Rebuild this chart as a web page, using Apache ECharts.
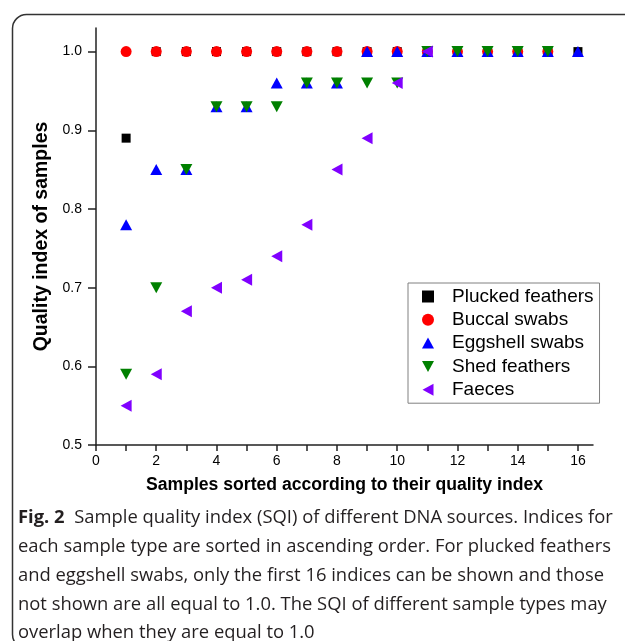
<!DOCTYPE html>
<html><head><meta charset="utf-8">
<script src="https://cdn.jsdelivr.net/npm/echarts@6/dist/echarts.min.js"></script>
<style>html,body{margin:0;padding:0;background:#fff}#c{width:625px;height:641px}</style>
</head><body><div id="c"></div>
<script>
const seriesNames = ['Plucked feathers','Buccal swabs','Eggshell swabs','Shed feathers','Faeces'];
const plucked  = [[1,0.89],[2,1.0],[3,1.0],[4,1.0],[5,1.0],[6,1.0],[7,1.0],[8,1.0],[9,1.0],[10,1.0],[11,1.0],[12,1.0],[13,1.0],[14,1.0],[15,1.0],[16,1.0]];
const buccal   = [[1,1.0],[2,1.0],[3,1.0],[4,1.0],[5,1.0],[6,1.0],[7,1.0],[8,1.0],[9,1.0],[10,1.0],[11,1.0],[12,1.0],[13,1.0],[14,1.0],[15,1.0]];
const eggshell = [[1,0.78],[2,0.85],[3,0.85],[4,0.93],[5,0.93],[6,0.96],[7,0.96],[8,0.96],[9,1.0],[10,1.0],[11,1.0],[12,1.0],[13,1.0],[14,1.0],[15,1.0],[16,1.0]];
const shed     = [[1,0.59],[2,0.70],[3,0.85],[4,0.93],[5,0.93],[6,0.93],[7,0.96],[8,0.96],[9,0.96],[10,0.96],[11,1.0],[12,1.0],[13,1.0],[14,1.0],[15,1.0]];
const faeces   = [[1,0.55],[2,0.59],[3,0.67],[4,0.70],[5,0.71],[6,0.74],[7,0.78],[8,0.85],[9,0.89],[10,0.96],[11,1.0]];
const xTicks = [0,1,2,3,4,5,6,7,8,9,10,11,12,13,14,15,16];
const xLabels = [0,2,4,6,8,10,12,14,16];
const yTicks = [0.5,0.6,0.7,0.8,0.9,1.0];
const captionLines = [
  'Sample quality index (SQI) of different DNA sources. Indices for',
  'each sample type are sorted in ascending order. For plucked feathers',
  'and eggshell swabs, only the first 16 indices can be shown and those',
  'not shown are all equal to 1.0. The SQI of different sample types may',
  'overlap when they are equal to 1.0'
];

const chart = echarts.init(document.getElementById('c'));
const F = '"Liberation Sans", Arial, sans-serif';
const CF = '"Open Sans", "Noto Sans", sans-serif';
const styles = [
  {data: plucked, color:'#000000', symbol:'rect', size:9, rot:0, icon:'rect'},
  {data: buccal, color:'#ff0000', symbol:'circle', size:11, rot:0, icon:'circle'},
  {data: eggshell, color:'#0000ff', symbol:'triangle', size:[12,11], rot:0, icon:'path://M6,0 L12,11 L0,11 Z'},
  {data: shed, color:'#008000', symbol:'triangle', size:[12,11], rot:180, icon:'path://M0,0 L12,0 L6,11 Z'},
  {data: faeces, color:'#8000ff', symbol:'triangle', size:[12,11], rot:90, icon:'path://M11,0 L11,12 L0,6 Z'}
];
const captionGraphics = captionLines.map((t,i)=>({
  type:'text', left:18, top: 509 + i*28.8,
  style:{
    text: i===0 ? '{b|Fig. 2}  ' + t : t,
    font: '18.4px ' + CF, fill:'#231f20',
    rich: {b:{fontFamily: CF, fontWeight:'bold', fontSize:18.4, fill:'#231f20'}}
  }
}));
chart.setOption({
  animation:false,
  grid:{left:96, right:32, top:28, bottom:196},
  xAxis:{
    type:'value', min:0, max:16.5,
    name:'Samples sorted according to their quality index',
    nameLocation:'middle', nameGap:31,
    nameTextStyle:{fontFamily:F, fontWeight:'bold', fontSize:17.6, color:'#000'},
    axisLine:{lineStyle:{color:'#222', width:1.5}},
    axisTick:{show:true, length:6, customValues:xTicks, lineStyle:{color:'#222', width:1.5}},
    axisLabel:{customValues:xLabels, fontFamily:F, fontSize:14, color:'#000', margin:9},
    splitLine:{show:false}
  },
  yAxis:{
    type:'value', min:0.5, max:1.03,
    name:'Quality index of samples',
    nameLocation:'middle', nameGap:39,
    nameTextStyle:{fontFamily:F, fontWeight:'bold', fontSize:19.5, color:'#000'},
    axisLine:{show:true, lineStyle:{color:'#222', width:1.5}},
    axisTick:{show:true, length:8, customValues:yTicks, lineStyle:{color:'#222', width:1.5}},
    axisLabel:{customValues:yTicks, formatter:v=>v.toFixed(1), fontFamily:F, fontSize:14, color:'#000', margin:14},
    splitLine:{show:false}
  },
  legend:{
    orient:'vertical', left:408, top:283,
    data: seriesNames.map((n,i)=>({name:n, icon:styles[i].icon})),
    borderColor:'#808080', borderWidth:1, borderRadius:0,
    padding:[4,6,4,14],
    itemWidth:12, itemHeight:12, itemGap:4.3,
    textStyle:{fontFamily:F, fontSize:19, lineHeight:19, color:'#000', padding:[0,0,0,13]}
  },
  graphic:[
    {type:'rect', left:10, top:12, shape:{width:660, height:634, r:14}, style:{fill:'none', stroke:'#333', lineWidth:1.5}, silent:true, z:-1}
  ].concat(captionGraphics),
  series: styles.map((s,i)=>({
    type:'scatter', name:seriesNames[i], data:s.data,
    symbol:s.symbol, symbolSize:s.size, symbolRotate:s.rot,
    itemStyle:{color:s.color, opacity:1}, z:2+i
  }))
});
</script></body></html>
